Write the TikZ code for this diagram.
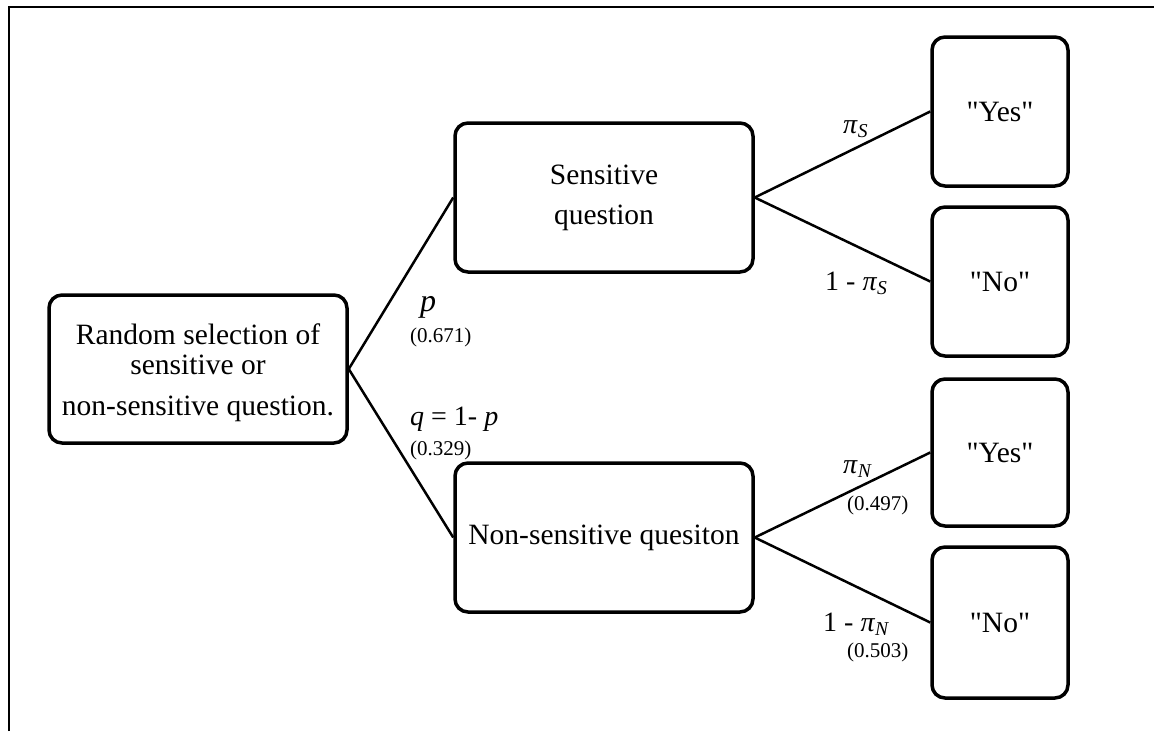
\documentclass[tikz,border=0pt]{standalone}
\usepackage{fontspec}
\setmainfont{Liberation Serif}[Ligatures=TeXOff]
\newcommand{\piS}[1]{\textit{π}\textsubscript{\textit{#1}}}
\begin{document}
\begin{tikzpicture}[x=1pt,y=-1pt,
  box/.style={draw, line width=3.5pt, rounded corners=13pt, align=center,
    font=\fontsize{29.5}{40}\selectfont, inner sep=0pt},
  boxtext/.style={align=center, font=\fontsize{29.5}{40}\selectfont, inner sep=0pt},
  wide/.style={minimum width=298pt},
  narrow/.style={minimum width=136pt},
  conn/.style={line width=2.5pt},
  lab/.style={font=\fontsize{28}{32}\selectfont, inner sep=0pt, anchor=base west},
  num/.style={font=\fontsize{21}{22}\selectfont, inner sep=0pt, anchor=base west},
  frame/.style={line width=2pt}]
\useasboundingbox (0,0) rectangle (1154,731);
\coordinate (fb) at (9,731);
\coordinate (fc) at (9,7);
\coordinate (fr) at (1154,7);
\draw[frame] (fb) -- (fc) -- (fr);

\node[box, wide, minimum height=148pt] (root) at (198,369) {};
\node[boxtext] (roottext) at ([yshift=-4pt]root.center)
  {Random selection of\\[-10pt] sensitive or\\[1pt] non-sensitive question.};
\node[box, wide, minimum height=149pt] (sens) at (604,197.5) {Sensitive\\ question};
\node[box, wide, minimum height=149pt] (non) at (604,537.5) {Non-sensitive quesiton};
\node[box, narrow, minimum height=149pt] (yes1) at (1000,111.5) {"Yes"};
\node[box, narrow, minimum height=149pt] (no1) at (1000,281.5) {"No"};
\node[box, narrow, minimum height=147pt] (yes2) at (1000,452.5) {"Yes"};
\node[box, narrow, minimum height=151pt] (no2) at (1000,622.5) {"No"};

\draw[conn] (root.east) -- (sens.west);
\draw[conn] (root.east) -- (non.west);
\draw[conn] (sens.east) -- (yes1.west);
\draw[conn] (sens.east) -- (no1.west);
\draw[conn] (non.east) -- (yes2.west);
\draw[conn] (non.east) -- (no2.west);

\node[lab, font=\fontsize{32}{34}\selectfont] (lp) at (420,311) {\textit{p}};
\node[num] (lp2) at (410,342) {(0.671)};
\node[lab] (lq) at (410,425) {\textit{q} = 1- \textit{p}};
\node[num] (lq2) at (410,455) {(0.329)};
\node[lab] (ls1) at (843,133) {\piS{S}};
\node[lab] (ls2) at (825,290) {1 - \piS{S}};
\node[lab] (ln1) at (843,473) {\piS{N}};
\node[num] (ln1b) at (847,510) {(0.497)};
\node[lab] (ln2) at (823,631) {1 - \piS{N}};
\node[num] (ln2b) at (847,657) {(0.503)};
\end{tikzpicture}
\end{document}
